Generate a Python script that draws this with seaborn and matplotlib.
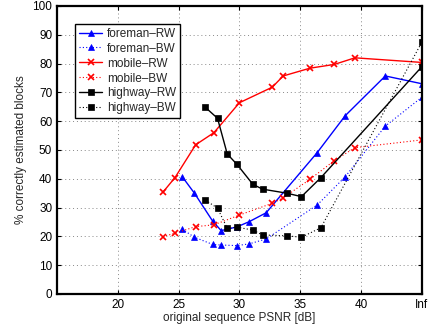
import numpy as np
import pandas as pd
import matplotlib
matplotlib.use("Agg")
import matplotlib.pyplot as plt
import seaborn as sns

INF = float("inf")

# ---- data (PSNR in dB, Inf = uncompressed) ----
foreman_x = [25.3, 26.3, 27.8, 28.5, 29.8, 30.8, 32.2, 36.4, 38.7, 42.0, INF]
foreman_rw = [40.7, 35.0, 25.3, 22.0, 23.3, 25.1, 28.2, 49.1, 61.9, 75.7, 73.0]
foreman_bw = [22.5, 19.7, 17.2, 17.0, 16.8, 17.4, 19.1, 30.9, 40.7, 58.3, 68.3]

mobile_x = [23.7, 24.7, 26.4, 27.9, 30.0, 32.7, 33.6, 35.8, 37.8, 39.5, INF]
mobile_rw = [35.3, 40.4, 51.8, 56.0, 66.4, 71.8, 75.7, 78.4, 79.7, 82.0, 80.4]
mobile_bw = [19.9, 21.1, 23.4, 24.0, 27.4, 31.5, 33.4, 39.8, 46.3, 50.8, 53.5]

highway_x = [27.2, 28.2, 29.0, 29.8, 31.1, 31.9, 33.9, 35.1, 36.7, INF]
highway_rw = [64.8, 61.0, 48.6, 45.0, 38.1, 36.4, 35.0, 33.8, 40.4, 78.9]
highway_bw = [32.6, 29.8, 22.8, 23.2, 22.2, 20.5, 20.2, 19.7, 23.0, 87.4]

x_ticks = [20, 25, 30, 35, 40, 45]
x_tick_labels = ["20", "25", "30", "35", "40", "Inf"]
y_ticks = list(range(0, 101, 10))

INF_POS = 45

sns.set_style("ticks")
plt.rcParams["font.family"] = ["Liberation Sans", "DejaVu Sans"]

fig = plt.figure(figsize=(4.32, 3.32), dpi=100)
ax = fig.add_axes([0.132, 0.1145, 0.8444, 0.8675])

def xmap(xs):
    return [INF_POS if np.isinf(v) else v for v in xs]

series = [
    ("foreman\u2013RW", foreman_x, foreman_rw, "blue", "-", "^", 5),
    ("foreman\u2013BW", foreman_x, foreman_bw, "blue", ":", "^", 5),
    ("mobile\u2013RW", mobile_x, mobile_rw, "red", "-", "x", 5),
    ("mobile\u2013BW", mobile_x, mobile_bw, "red", ":", "x", 5),
    ("highway\u2013RW", highway_x, highway_rw, "black", "-", "s", 4),
    ("highway\u2013BW", highway_x, highway_bw, "black", ":", "s", 4),
]

for name, xs, ys, col, ls, mk, ms in series:
    df = pd.DataFrame({"x": xmap(xs), "y": ys})
    dotted = ls == ":"
    sns.lineplot(data=df, x="x", y="y", ax=ax, sort=False, color=col,
                 linestyle=(0, (1, 2)) if dotted else "-",
                 marker=mk, markersize=ms,
                 linewidth=0.8 if dotted else 1.0,
                 markeredgecolor=col, markerfacecolor=col,
                 markeredgewidth=1.2 if mk == "x" else 0.5,
                 label=name, estimator=None)

ax.set_xlim(15, 45)
ax.set_ylim(0, 100)
ax.set_xticks(x_ticks)
ax.set_xticklabels(x_tick_labels)
ax.set_yticks(y_ticks)
ax.tick_params(direction="in", top=True, right=True, labelsize=8.5,
               length=3, width=0.8, colors="black")
for s in ax.spines.values():
    s.set_linewidth(1.6)
    s.set_color("black")
    s.set_visible(True)

ax.grid(True, linestyle=(0, (1, 3)), color="#888888", linewidth=0.7)
ax.set_xlabel("original sequence PSNR [dB]", fontsize=8.5, labelpad=1)
ax.set_ylabel("% correctly estimated blocks", fontsize=8.5, labelpad=4)

leg = ax.legend(loc="upper left", bbox_to_anchor=(0.05, 0.937), fontsize=8.5,
                frameon=True, fancybox=False, framealpha=1, edgecolor="black",
                handlelength=2.0, borderpad=0.3, labelspacing=0.25,
                handletextpad=0.4, borderaxespad=0)
leg.get_frame().set_linewidth(1.0)

fig.savefig("out.png", dpi=100)
